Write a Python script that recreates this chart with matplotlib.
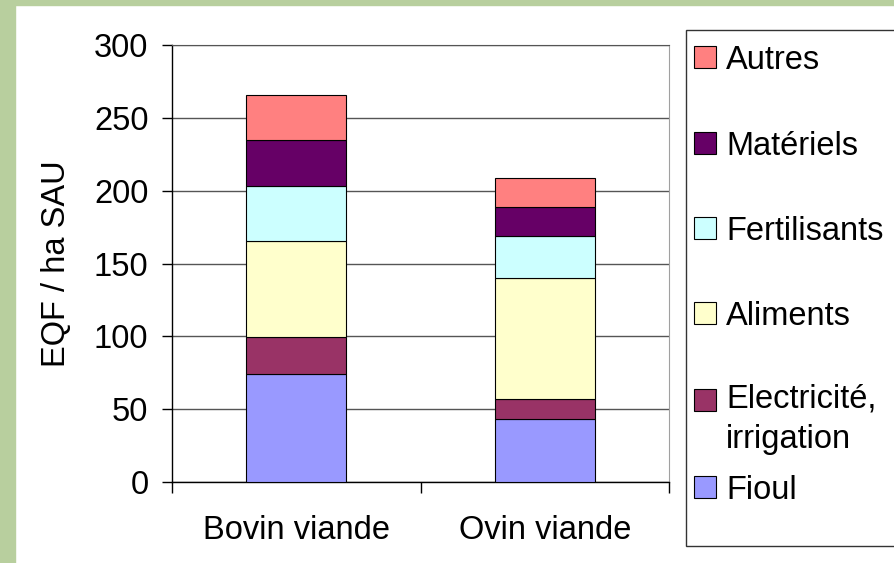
import matplotlib.pyplot as plt
from matplotlib.patches import Rectangle
import numpy as np

plt.rcParams["font.family"] = ["Liberation Sans", "DejaVu Sans"]

categories = ["Bovin viande", "Ovin viande"]
series_names = ["Fioul", "Electricité,\nirrigation", "Aliments", "Fertilisants", "Matériels", "Autres"]
fioul = [74, 43]
electricite = [25.5, 14]
aliments = [66, 83]
fertilisants = [37.5, 29]
materiels = [31.5, 20]
autres = [31, 19.5]
series_values = [fioul, electricite, aliments, fertilisants, materiels, autres]
colors = ["#9999FF", "#993366", "#FFFFCC", "#CCFFFF", "#660066", "#FF8080"]

W, H = 894, 563
fs = 23.5
fig = plt.figure(figsize=(W / 100, H / 100), dpi=100)


def fx(px):
    return px / W


def fy(py):
    return 1 - py / H


# green frame strips
fig.patches.append(Rectangle((0, 0), fx(15), 1, transform=fig.transFigure,
                             color="#B8CF9E", zorder=0))
fig.patches.append(Rectangle((0, fy(5)), 1, 5 / H, transform=fig.transFigure,
                             color="#B8CF9E", zorder=0))

ax = fig.add_axes([fx(172), fy(482), (669 - 172) / W, (482 - 45) / H])
positions = np.arange(len(categories))
bottom = np.zeros(len(categories))
for vals, color, name in zip(series_values, colors, series_names):
    ax.bar(positions, vals, 0.403, bottom=bottom, color=color,
           edgecolor="black", linewidth=0.8, zorder=3, label=name)
    bottom += np.array(vals)

ax.set_xlim(-0.5, 1.5)
ax.set_ylim(0, 300)
ax.set_yticks(np.arange(0, 301, 50))
ax.yaxis.grid(True, color="#555555", linewidth=1, zorder=0)
ax.tick_params(axis="y", labelsize=fs, length=7, width=1, direction="out", pad=10)
ax.set_xticks(positions)
ax.set_xticklabels(categories)
ax.set_xticks([-0.5, 0.5, 1.5], minor=True)
ax.tick_params(axis="x", which="major", labelsize=fs, length=0, pad=24)
ax.tick_params(axis="x", which="minor", length=8, width=1, direction="out")
ax.set_ylabel("EQF / ha SAU", fontsize=fs, labelpad=16)
for side in ["left", "bottom"]:
    ax.spines[side].set_color("black")
    ax.spines[side].set_linewidth(1)
ax.spines["top"].set_color("#555555")
ax.spines["right"].set_color("#a0a0a0")

# legend box, drawn like the Excel one
fig.patches.append(Rectangle((fx(686), fy(546)), (900 - 686) / W, (546 - 30) / H,
                             transform=fig.transFigure, facecolor="white",
                             edgecolor="#333333", linewidth=1, zorder=1))
legend_y = [487, 400, 313, 228, 143, 57]
for name, color, ly in zip(series_names, colors, legend_y):
    fig.patches.append(Rectangle((fx(694), fy(ly + 11)), 22 / W, 22 / H,
                                 transform=fig.transFigure, facecolor=color,
                                 edgecolor="black", linewidth=0.8, zorder=2))
    if "\n" in name:
        fig.text(fx(726), fy(ly - 17), name, fontsize=fs, va="top",
                 ha="left", linespacing=1.4)
    else:
        fig.text(fx(726), fy(ly), name, fontsize=fs, va="center_baseline",
                 ha="left")

plt.savefig("out.png", dpi=100)
